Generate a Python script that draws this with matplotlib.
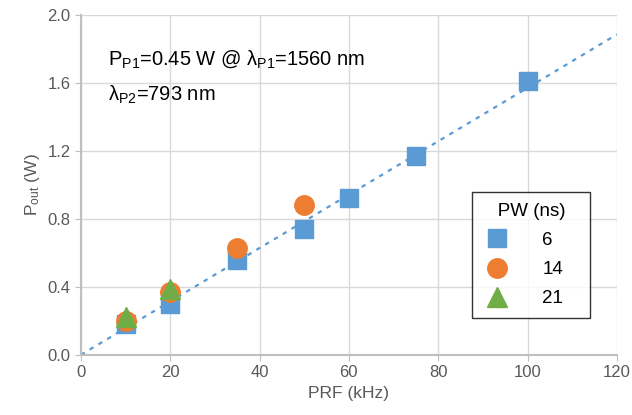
import numpy as np
import matplotlib.pyplot as plt

# PRF (kHz) and output power (W) per pulse width
prf_6 = [10, 20, 35, 50, 60, 75, 100]
pout_6 = [0.18, 0.30, 0.56, 0.74, 0.92, 1.17, 1.61]
prf_14 = [10, 20, 35, 50]
pout_14 = [0.20, 0.37, 0.63, 0.88]
prf_21 = [10, 20]
pout_21 = [0.22, 0.39]


def main():
    plt.rcParams['font.family'] = 'Liberation Sans'
    plt.rcParams['mathtext.default'] = 'regular'

    fig = plt.figure(figsize=(6.32, 4.15), dpi=100)
    ax = fig.add_axes([0.128, 0.145, 0.848, 0.819])

    # linear trend through origin for the 6 ns series
    x = np.array(prf_6, dtype=float)
    y = np.array(pout_6)
    slope = (x * y).sum() / (x * x).sum()
    xt = np.array([0, 120])
    ax.plot(xt, slope * xt, ls=(0, (2, 2.6)), color='#5B9BD5', lw=1.6, zorder=2)

    ax.plot(prf_6, pout_6, 's', color='#5B9BD5', ms=12.5, label='6', zorder=3)
    ax.plot(prf_14, pout_14, 'o', color='#ED7D31', ms=14, label='14', zorder=4)
    ax.plot(prf_21, pout_21, '^', color='#70AD47', ms=15, label='21', zorder=5)

    ax.set_xlim(0, 120)
    ax.set_ylim(0, 2.0)
    ax.set_xticks(range(0, 121, 20))
    ax.set_yticks(np.arange(0, 2.01, 0.4))
    ax.yaxis.set_major_formatter(plt.FormatStrFormatter('%.1f'))
    ax.grid(color='#D9D9D9', lw=1)
    ax.set_axisbelow(True)
    for side in ['top', 'right']:
        ax.spines[side].set_visible(False)
    for side in ['left', 'bottom']:
        ax.spines[side].set_color('#BFBFBF')
        ax.spines[side].set_linewidth(1.5)
    ax.tick_params(colors='#BFBFBF', labelcolor='#595959', labelsize=12, length=4)

    ax.set_xlabel('PRF (kHz)', color='#595959', fontsize=12.5, labelpad=4)
    ax.set_ylabel('P$_{out}$ (W)', color='#595959', fontsize=12.5, labelpad=4)

    ax.text(0.05, 0.855, 'P$_{P1}$=0.45 W @ λ$_{P1}$=1560 nm', transform=ax.transAxes,
            fontsize=14.5, color='black')
    ax.text(0.05, 0.748, 'λ$_{P2}$=793 nm', transform=ax.transAxes,
            fontsize=14.5, color='black')

    leg = ax.legend(title='   PW (ns)', loc='lower left', bbox_to_anchor=(0.73, 0.109, 0.22, 0.37),
                    mode='expand', borderaxespad=0, fontsize=13.5, title_fontsize=13.5,
                    frameon=True, fancybox=False, borderpad=0.55, labelspacing=0.65,
                    handlelength=1.6, handletextpad=1.6, markerscale=1.0)
    leg.get_frame().set_edgecolor('black')
    leg.get_frame().set_linewidth(1)
    leg._legend_box.align = 'left'

    fig.savefig('out.png', dpi=100)


if __name__ == '__main__':
    main()
